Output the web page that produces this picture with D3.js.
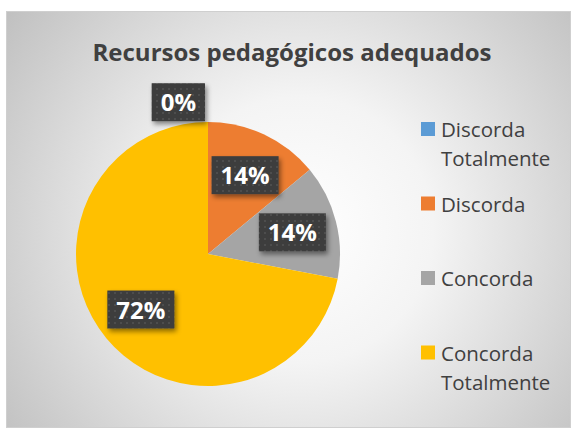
<!DOCTYPE html>
<html>
<head>
<meta charset="utf-8">
<script src="https://cdn.jsdelivr.net/npm/d3@7"></script>
<style>
  html, body { margin: 0; padding: 0; background: #fff; }
  svg { display: block; font-family: "Open Sans", "DejaVu Sans", sans-serif; }
</style>
</head>
<body>
<div id="chart"></div>
<script>
// data
var categories = ['Discorda Totalmente', 'Discorda', 'Concorda', 'Concorda Totalmente'];
var counts = [0, 7, 7, 36];
var legendLines = [['Discorda', 'Totalmente'], ['Discorda'], ['Concorda'], ['Concorda', 'Totalmente']];
var colors = ['#5B9BD5', '#ED7D31', '#A5A5A5', '#FFC000'];
var title = 'Recursos pedagógicos adequados';

var w = 575, h = 431;
var cx = 208, cy = 254, r = 132;

var svg = d3.select('#chart').append('svg')
    .attr('width', w)
    .attr('height', h);

var defs = svg.append('defs');

var grad = defs.append('radialGradient')
    .attr('id', 'bg')
    .attr('gradientUnits', 'userSpaceOnUse')
    .attr('cx', 300).attr('cy', 230).attr('r', 380);
grad.append('stop').attr('offset', 0).attr('stop-color', '#ffffff');
grad.append('stop').attr('offset', 0.35).attr('stop-color', '#f4f4f4');
grad.append('stop').attr('offset', 1).attr('stop-color', '#bdbdbd');

var pat = defs.append('pattern')
    .attr('id', 'dots')
    .attr('patternUnits', 'userSpaceOnUse')
    .attr('width', 6).attr('height', 6);
pat.append('rect').attr('width', 6).attr('height', 6).attr('fill', '#3e3e3e');
pat.append('rect').attr('x', 2).attr('y', 2).attr('width', 2).attr('height', 2).attr('fill', '#4d4d4d');

var shadow = defs.append('filter').attr('id', 'shadow')
    .attr('x', '-30%').attr('y', '-30%').attr('width', '160%').attr('height', '160%');
shadow.append('feDropShadow')
    .attr('dx', 2).attr('dy', 3).attr('stdDeviation', 2.5)
    .attr('flood-color', '#000').attr('flood-opacity', 0.45);

// chart area
svg.append('rect')
    .attr('x', 6.5).attr('y', 11.5)
    .attr('width', 564).attr('height', 416)
    .attr('fill', 'url(#bg)')
    .attr('stroke', '#cfcfcf');

svg.append('text')
    .attr('x', 292).attr('y', 61)
    .attr('text-anchor', 'middle')
    .attr('font-size', 24)
    .attr('font-weight', 'bold')
    .attr('fill', '#404040')
    .text(title);

// pie
var data = categories.map(function(c, i) { return { label: c, count: counts[i], color: colors[i] }; });
var total = d3.sum(counts);
var pct = d3.format('.0%');

var pie = d3.pie().value(function(d) { return d.count; }).sort(null);
var arc = d3.arc().innerRadius(0).outerRadius(r);
var labelArc = d3.arc().innerRadius(r * 0.66).outerRadius(r * 0.66);
var outerArc = d3.arc().innerRadius(r * 1.15).outerRadius(r * 1.15);

var g = svg.append('g').attr('transform', 'translate(' + cx + ',' + cy + ')');

g.selectAll('path')
    .data(pie(data))
    .enter()
    .append('path')
    .attr('d', arc)
    .attr('fill', function(d) { return d.data.color; });

// data labels
var labels = g.selectAll('g.lbl')
    .data(pie(data))
    .enter()
    .append('g')
    .attr('class', 'lbl');

labels.each(function(d) {
    var sel = d3.select(this);
    var zero = d.data.count === 0;
    var p = zero ? outerArc.centroid(d) : labelArc.centroid(d);
    var txt = sel.append('text')
        .attr('font-size', 24)
        .attr('font-weight', 'bold')
        .attr('fill', '#ffffff')
        .attr('text-anchor', 'middle')
        .text(pct(d.data.count / total));
    var tw = txt.node().getComputedTextLength();
    var bw = tw + 18, bh = 38;
    var x = zero ? p[0] - 3 - bw / 2 : p[0];
    var y = p[1];
    sel.insert('rect', 'text')
        .attr('x', x - bw / 2).attr('y', y - bh / 2)
        .attr('width', bw).attr('height', bh)
        .attr('fill', 'url(#dots)')
        .attr('filter', 'url(#shadow)');
    txt.attr('x', x).attr('y', y + 9);
});

// legend
var legend = svg.append('g').attr('transform', 'translate(421,122)');
var step = 74.5;
var item = legend.selectAll('g')
    .data(data)
    .enter()
    .append('g')
    .attr('transform', function(d, i) { return 'translate(0,' + (i * step) + ')'; });

item.append('rect')
    .attr('width', 14).attr('height', 14)
    .attr('fill', function(d) { return d.color; });

item.append('text')
    .attr('font-size', 20.5)
    .attr('fill', '#404040')
    .selectAll('tspan')
    .data(function(d, i) { return legendLines[i]; })
    .enter()
    .append('tspan')
    .attr('x', 20)
    .attr('y', function(d, j) { return 15 + j * 29; })
    .text(function(d) { return d; });
</script>
</body>
</html>
